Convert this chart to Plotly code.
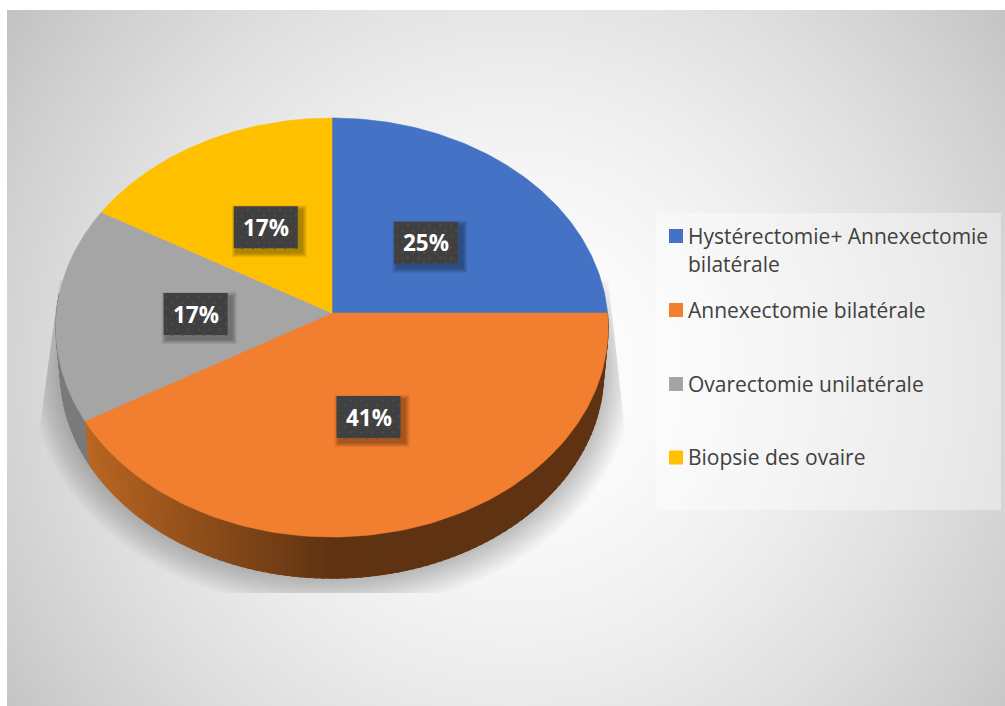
import numpy as np
import plotly.graph_objects as go

categories = ['Hystérectomie+ Annexectomie bilatérale', 'Annexectomie bilatérale',
              'Ovarectomie unilatérale', 'Biopsie des ovaire']
counts = [3, 5, 2, 2]
pct_labels = ['25%', '41%', '17%', '17%']
colors = ['#4472C4', '#F27E30', '#A5A5A5', '#FFC000']
legend_lines = [['Hystérectomie+ Annexectomie', 'bilatérale'], ['Annexectomie bilatérale'],
                ['Ovarectomie unilatérale'], ['Biopsie des ovaire']]
legend_y = [236, 310, 384, 457.5]

FONT = 'Open Sans'
CX, CY = 332, 313
K = 0.0692  # perspective of the tilted disc


def project(theta, r=1.0, rx=275.5, ry=208.5, cy=CY):
    # theta clockwise from 12 o'clock, degrees
    t = np.radians(theta)
    x, y = r * np.sin(t), r * np.cos(t)
    d = 1 + K * y
    return CX + rx * x / d, cy - ry * y / d


def bottom_rim(theta, grow=0):
    return project(theta, rx=271 + grow, ry=205 + grow, cy=358)


def poly(fig, xs, ys, fill, width=0.6):
    fig.add_trace(go.Scatter(
        x=list(xs), y=list(ys), mode='lines', fill='toself', fillcolor=fill,
        line=dict(color=fill, width=width), hoverinfo='skip',
    ))


def mix(a, b, t):
    return 'rgb(%d,%d,%d)' % tuple(a[i] + (b[i] - a[i]) * t for i in range(3))


angles = np.concatenate([[0], np.cumsum(counts)]) / sum(counts) * 360

fig = go.Figure()

# page background, radial white to grey
shapes = [dict(type='rect', x0=7, x1=1005, y0=10, y1=706, fillcolor='#c0c0c0', line_width=0, layer='below')]
bg_x, bg_y, bg_far = 515, 375, 640
for level in range(0xc1, 256):
    rad = bg_far * ((255 - level) / 63) ** 0.6
    c = 'rgb(%d,%d,%d)' % (level, level, level)
    shapes.append(dict(type='circle', x0=bg_x - rad, x1=bg_x + rad, y0=bg_y - rad, y1=bg_y + rad,
                       fillcolor=c, line_width=0, layer='below'))

# soft shadow under the disc
th = np.linspace(70, 290, 160)
for grow in range(30, 0, -2):
    sx, sy = bottom_rim(th, grow)
    sy = np.minimum(sy, 593)
    xmax = 612 + (sy - 313) * 14 / 127
    xmin = 55 - (sy - 313) * 17 / 127
    sx = np.clip(sx, xmin, xmax)
    poly(fig, np.append(sx, CX), np.append(sy, CY), 'rgba(0,0,0,0.016)', width=0)

# side wall, only the front half shows
wall_stops = {1: ((0x5f, 0x33, 0x12), (0xb8, 0x66, 0x22)), 2: ((0x80, 0x80, 0x80), (0x7a, 0x7a, 0x7a))}
for i, (dark, light) in wall_stops.items():
    a0, a1 = angles[i], min(angles[i + 1], 275)
    edges = np.append(np.arange(a0, a1, 1.5), a1)
    for e0, e1 in zip(edges[:-1], edges[1:]):
        seg = np.linspace(e0, e1 + 0.5, 4)
        tx, ty = project(seg)
        bx, by = bottom_rim(seg)
        t = np.clip((330 - tx.mean()) / (330 - 88), 0, 1)
        poly(fig, np.append(tx, bx[::-1]), np.append(ty, by[::-1]), mix(dark, light, t), width=1)

# top face
for i, color in enumerate(colors):
    seg = np.linspace(angles[i], angles[i + 1], 120)
    tx, ty = project(seg)
    poly(fig, np.concatenate([[CX], tx, [CX]]), np.concatenate([[CY], ty, [CY]]), color)

# data labels sit in dark boxes at the middle of each slice
annotations = []
dot_x, dot_y = [], []
BW, BH = 32, 21
for i, label in enumerate(pct_labels):
    lx, ly = project((angles[i] + angles[i + 1]) / 2, r=0.495)
    lx, ly = float(lx), float(ly) + 1
    for grow in range(5, 0, -1):
        sx0, sx1, sy0, sy1 = lx - BW + 3 - grow, lx + BW + 4 + grow, ly - BH + 4 - grow, ly + BH + 4 + grow
        poly(fig, [sx0, sx1, sx1, sx0, sx0], [sy0, sy0, sy1, sy1, sy0], 'rgba(0,0,0,0.07)', width=0)
    poly(fig, [lx - BW, lx + BW, lx + BW, lx - BW, lx - BW],
         [ly - BH, ly - BH, ly + BH, ly + BH, ly - BH], '#404040', width=0)
    for row, yy in enumerate(np.arange(ly - BH + 4, ly + BH, 5.4)):
        for xx in np.arange(lx - BW + 3 + (row % 2) * 5.4, lx + BW, 10.8):
            dot_x.append(xx)
            dot_y.append(yy)
    annotations.append(dict(x=lx, y=ly, xref='x', yref='y', text='<b>%s</b>' % label, showarrow=False,
                            font=dict(family=FONT, size=22.5, color='white')))

fig.add_trace(go.Scatter(x=dot_x, y=dot_y, mode='markers', hoverinfo='skip',
                         marker=dict(symbol='square', size=2, color='#4e4e4e', line_width=0)))

# legend panel
shapes.append(dict(type='rect', x0=656, x1=1001, y0=213, y1=510, fillcolor='rgba(255,255,255,0.38)',
                   line_width=0, layer='below'))
fig.add_trace(go.Scatter(x=[676] * 4, y=legend_y, mode='markers', hoverinfo='skip',
                         marker=dict(symbol='square', size=14, color=colors, line_width=0)))
for lines, yy in zip(legend_lines, legend_y):
    for j, line in enumerate(lines):
        annotations.append(dict(x=686, y=yy - 0.5 + j * 28.5, xref='x', yref='y', xanchor='left', text=line,
                                showarrow=False, font=dict(family=FONT, size=21, color='#404040')))

fig.update_layout(
    width=1005, height=706, autosize=False, showlegend=False,
    margin=dict(l=7, r=0, t=10, b=0),
    paper_bgcolor='white', plot_bgcolor='rgba(0,0,0,0)',
    xaxis=dict(range=[7, 1005], visible=False, fixedrange=True),
    yaxis=dict(range=[706, 10], visible=False, fixedrange=True),
    shapes=shapes, annotations=annotations,
)

fig.write_html('out.html', config=dict(displayModeBar=False), post_script="document.body.style.margin='0';")
